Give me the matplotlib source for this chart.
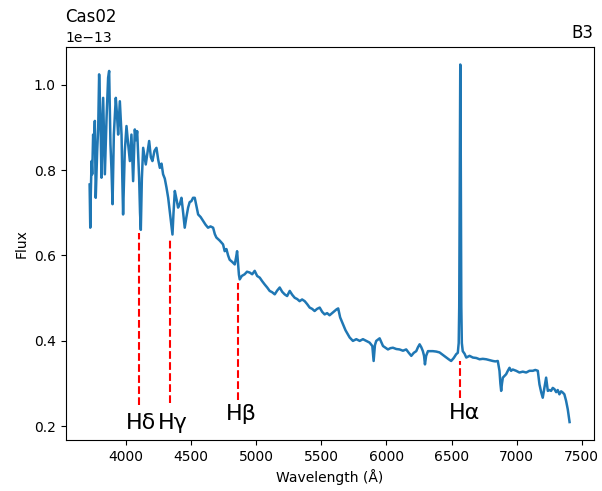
import numpy as np
import matplotlib
matplotlib.use('Agg')
import matplotlib.pyplot as plt

# spectrum, flux in units of 1e-13
wavelength = [
    3722, 3725, 3727, 3731, 3737, 3742, 3749, 3755, 3762, 3769, 3780, 3788,
    3795, 3805, 3813, 3826, 3839, 3852, 3864, 3872, 3882, 3890, 3898, 3908,
    3923, 3932, 3941, 3954, 3967, 3973, 3979, 3992, 4005, 4018, 4031, 4043,
    4056, 4069, 4078, 4087, 4102, 4109, 4115, 4123, 4133, 4153, 4166, 4179,
    4192, 4204, 4220, 4235, 4248, 4261, 4274, 4286, 4299, 4312, 4325, 4337,
    4350, 4358, 4366, 4376, 4390, 4401, 4414, 4427, 4440, 4452, 4465, 4478,
    4490, 4503, 4516, 4529, 4542, 4555, 4574, 4593, 4612, 4631, 4650, 4670,
    4683, 4695, 4720, 4746, 4759, 4772, 4785, 4797, 4816, 4836, 4846, 4854,
    4862, 4868, 4874, 4890, 4912, 4930, 4951, 4970, 4989, 5008, 5028, 5046,
    5066, 5085, 5104, 5123, 5143, 5162, 5181, 5200, 5219, 5238, 5258, 5277,
    5296, 5315, 5334, 5353, 5373, 5392, 5411, 5430, 5449, 5468, 5488, 5507,
    5526, 5545, 5564, 5583, 5603, 5618, 5630, 5645, 5667, 5686, 5705, 5718,
    5743, 5769, 5795, 5820, 5846, 5871, 5892, 5902, 5912, 5922, 5948, 5974,
    5993, 6012, 6031, 6050, 6076, 6101, 6127, 6152, 6172, 6191, 6210, 6229,
    6242, 6255, 6268, 6280, 6289, 6296, 6305, 6319, 6338, 6357, 6383, 6408,
    6434, 6459, 6478, 6497, 6517, 6536, 6548, 6555, 6559, 6562, 6565, 6567,
    6569, 6572, 6575, 6579, 6586, 6600, 6613, 6638, 6664, 6690, 6715, 6740,
    6766, 6792, 6817, 6836, 6855, 6862, 6868, 6875, 6881, 6887, 6894, 6906,
    6919, 6932, 6945, 6957, 6970, 6996, 7021, 7047, 7073, 7098, 7124, 7143,
    7162, 7168, 7175, 7188, 7200, 7213, 7226, 7232, 7239, 7252, 7264, 7277,
    7290, 7303, 7315, 7328, 7341, 7354, 7366, 7379, 7392, 7406,
]
flux = [
    0.766, 0.700, 0.665, 0.745, 0.821, 0.790, 0.883, 0.850, 0.915, 0.735, 0.844, 0.900,
    1.024, 0.922, 0.782, 0.969, 0.790, 0.922, 1.016, 1.032, 0.860, 0.800, 0.720, 0.883,
    0.969, 0.930, 0.883, 0.961, 0.883, 0.780, 0.696, 0.844, 0.903, 0.860, 0.821, 0.883,
    0.774, 0.895, 0.870, 0.891, 0.782, 0.700, 0.660, 0.780, 0.852, 0.813, 0.840, 0.868,
    0.830, 0.821, 0.845, 0.852, 0.825, 0.805, 0.815, 0.790, 0.780, 0.759, 0.735, 0.704,
    0.670, 0.649, 0.700, 0.751, 0.730, 0.712, 0.720, 0.735, 0.700, 0.665, 0.690, 0.712,
    0.725, 0.727, 0.735, 0.735, 0.715, 0.696, 0.690, 0.681, 0.672, 0.665, 0.668, 0.665,
    0.650, 0.642, 0.635, 0.626, 0.610, 0.615, 0.600, 0.590, 0.585, 0.579, 0.595, 0.610,
    0.580, 0.555, 0.544, 0.552, 0.556, 0.562, 0.560, 0.556, 0.564, 0.552, 0.548, 0.540,
    0.532, 0.525, 0.517, 0.514, 0.509, 0.518, 0.525, 0.515, 0.509, 0.505, 0.517, 0.508,
    0.501, 0.498, 0.493, 0.497, 0.493, 0.486, 0.478, 0.475, 0.470, 0.475, 0.478, 0.468,
    0.462, 0.465, 0.460, 0.465, 0.470, 0.474, 0.476, 0.455, 0.439, 0.425, 0.415, 0.408,
    0.400, 0.404, 0.400, 0.404, 0.400, 0.396, 0.388, 0.353, 0.390, 0.400, 0.406, 0.388,
    0.384, 0.380, 0.383, 0.384, 0.381, 0.380, 0.377, 0.380, 0.372, 0.365, 0.372, 0.376,
    0.385, 0.392, 0.385, 0.376, 0.365, 0.345, 0.365, 0.376, 0.376, 0.376, 0.375, 0.373,
    0.367, 0.361, 0.357, 0.353, 0.360, 0.369, 0.372, 0.395, 0.480, 0.700, 0.980, 1.047,
    0.980, 0.700, 0.480, 0.395, 0.376, 0.370, 0.361, 0.365, 0.361, 0.360, 0.357, 0.358,
    0.357, 0.355, 0.353, 0.352, 0.353, 0.340, 0.330, 0.300, 0.283, 0.300, 0.314, 0.318,
    0.322, 0.330, 0.337, 0.330, 0.333, 0.330, 0.326, 0.328, 0.326, 0.330, 0.330, 0.332,
    0.330, 0.315, 0.298, 0.280, 0.267, 0.290, 0.314, 0.300, 0.283, 0.285, 0.283, 0.290,
    0.287, 0.280, 0.285, 0.275, 0.282, 0.279, 0.275, 0.260, 0.240, 0.210,
]

# Balmer lines
line_names = ['Hδ', 'Hγ', 'Hβ', 'Hα']
line_wl = [4102, 4340, 4861, 6563]
line_bottom = [0.250, 0.255, 0.262, 0.267]
line_top = [0.653, 0.640, 0.536, 0.353]
label_x = [4116, 4362, 4889, 6600]
label_y = [0.194, 0.194, 0.214, 0.217]

SCALE = 1e-13

fig, ax = plt.subplots(figsize=(6.02, 4.91), dpi=100)
fig.subplots_adjust(left=0.109, right=0.986, bottom=0.104, top=0.905)

ax.plot(wavelength, np.array(flux) * SCALE, color='tab:blue', lw=1.8)

for name, wl, lo, hi, tx, ty in zip(line_names, line_wl, line_bottom,
                                     line_top, label_x, label_y):
    ax.plot([wl, wl], [lo * SCALE, hi * SCALE], color='red', ls='--',
            lw=1.5, scalex=False, scaley=False)
    ax.text(tx, ty * SCALE, name, fontsize=16, ha='center', va='baseline')

ax.set_xlabel('Wavelength (Å)')
ax.set_ylabel('Flux')
# star name sits above the offset text, band label at the usual title spot
ax.annotate('Cas02', xy=(0, 1), xycoords='axes fraction', xytext=(0, 18),
            textcoords='offset points', fontsize=12, ha='left', va='baseline')
ax.set_title('B3', loc='right')

fig.savefig('out.png', dpi=100)
